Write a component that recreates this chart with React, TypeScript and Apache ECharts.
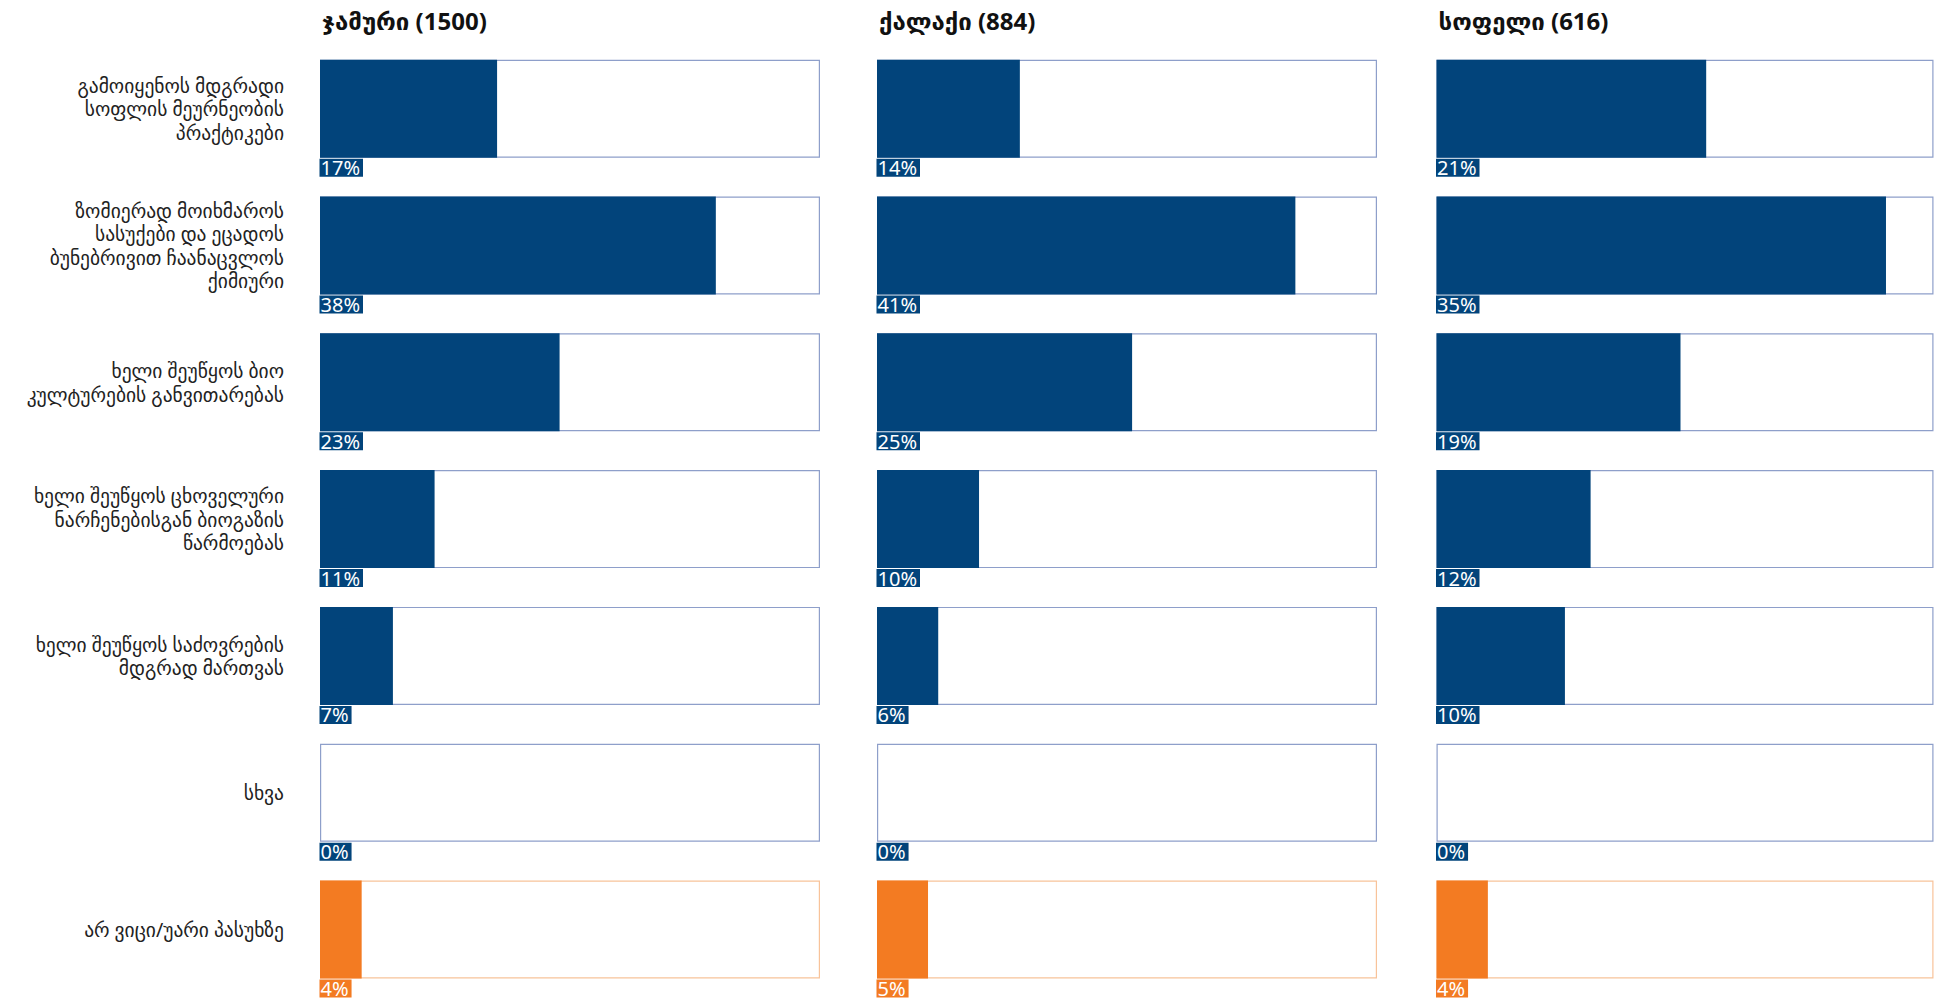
import React, { useEffect, useRef } from "react";
import * as echarts from "echarts";

const categories = [
  "გამოიყენოს მდგრადი\nსოფლის მეურნეობის\nპრაქტიკები",
  "ზომიერად მოიხმაროს\nსასუქები და ეცადოს\nბუნებრივით ჩაანაცვლოს\nქიმიური",
  "ხელი შეუწყოს ბიო\nკულტურების განვითარებას",
  "ხელი შეუწყოს ცხოველური\nნარჩენებისგან ბიოგაზის\nწარმოებას",
  "ხელი შეუწყოს საძოვრების\nმდგრად მართვას",
  "სხვა",
  "არ ვიცი/უარი პასუხზე",
];

const panelTitles = ["ჯამური (1500)", "ქალაქი (884)", "სოფელი (616)"];
const totalValues = [17, 38, 23, 11, 7, 0, 4];
const cityValues = [14, 41, 25, 10, 6, 0, 5];
const villageValues = [21, 35, 19, 12, 10, 0, 4];
const panelValues = [totalValues, cityValues, villageValues];
const panelMax = [48, 49, 38.7];

const BLUE = "#02447B";
const ORANGE = "#F37B22";
const BLUE_BORDER = "#8E9FCA";
const ORANGE_BORDER = "#F8C39A";
const GEO_FONT = "'Noto Sans', 'DejaVu Sans', sans-serif";
const NUM_FONT = "'Noto Sans', 'DejaVu Sans', sans-serif";

const gridLefts = [320, 877, 1436.5];
const gridWidths = [500, 500, 497];

export default function App() {
  const ref = useRef<HTMLDivElement>(null);
  useEffect(() => {
    if (!ref.current) return;
    const chart = echarts.init(ref.current, undefined, { renderer: "svg" });
    const isOther = (j: number) => j === categories.length - 1;
    const option: any = {
      animation: false,
      backgroundColor: "#ffffff",
      title: panelTitles.map((t, i) => ({
        text: t,
        left: gridLefts[i] - 3,
        top: 3,
        textStyle: { fontFamily: GEO_FONT, fontWeight: "bold", fontSize: 24, color: "#111111" },
      })),
      grid: panelTitles.map((_, i) => ({
        left: gridLefts[i],
        width: gridWidths[i],
        top: 40.3,
        height: 957.6,
        containLabel: false,
      })),
      xAxis: panelTitles.map((_, i) => ({
        type: "value",
        gridIndex: i,
        min: 0,
        max: panelMax[i],
        show: false,
      })),
      yAxis: panelTitles.map((_, i) => ({
        type: "category",
        gridIndex: i,
        inverse: true,
        data: categories,
        axisLine: { show: false },
        axisTick: { show: false },
        axisLabel: {
          show: i === 0,
          margin: 36,
          align: "right",
          fontFamily: GEO_FONT,
          fontSize: 19.5,
          lineHeight: 23.5,
          color: "#222222",
        },
      })),
      series: panelTitles.flatMap((_, i) => [
        {
          type: "bar",
          name: "box" + i,
          xAxisIndex: i,
          yAxisIndex: i,
          barWidth: 98,
          barGap: "-100%",
          z: 1,
          silent: true,
          data: categories.map((_, j) => ({
            value: panelMax[i],
            itemStyle: {
              color: "#ffffff",
              borderColor: isOther(j) ? ORANGE_BORDER : BLUE_BORDER,
              borderWidth: 1.2,
            },
            label: { backgroundColor: isOther(j) ? ORANGE : BLUE },
          })),
          label: {
            show: true,
            position: [-0.5, "100%"],
            offset: [0, 1],
            formatter: (p: any) => panelValues[i][p.dataIndex] + "%",
            color: "#ffffff",
            fontFamily: NUM_FONT,
            fontSize: 20,
            lineHeight: 18,
            padding: [0, 3, 0, 1],
          },
        },
        {
          type: "bar",
          name: "val" + i,
          xAxisIndex: i,
          yAxisIndex: i,
          barWidth: 98,
          barGap: "-100%",
          z: 2,
          data: panelValues[i].map((v, j) => ({
            value: v,
            itemStyle: { color: isOther(j) ? ORANGE : BLUE },
          })),
        },
      ]),
    };
    chart.setOption(option);
    return () => chart.dispose();
  }, []);
  return (
    <div
      ref={ref}
      style={{ position: "absolute", left: 0, top: 0, width: 1950, height: 1004 }}
    />
  );
}
